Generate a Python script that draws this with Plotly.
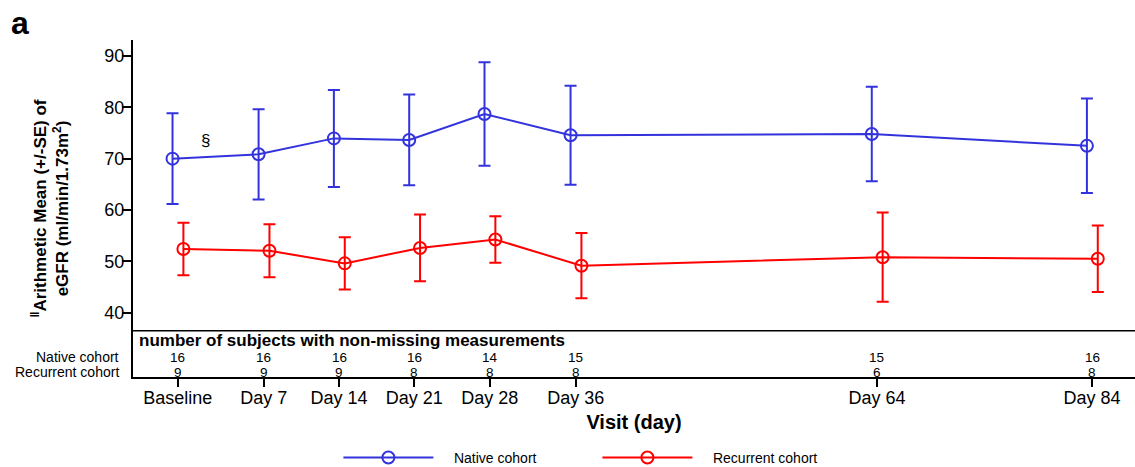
import plotly.graph_objects as go

# ---- data ----
visit_labels = ["Baseline", "Day 7", "Day 14", "Day 21", "Day 28", "Day 36", "Day 64", "Day 84"]
visit_day = [-1, 7, 14, 21, 28, 36, 64, 84]

native_mean = [70.0, 70.85, 73.95, 73.65, 78.7, 74.55, 74.8, 72.5]
native_se = [8.83, 8.8, 9.45, 8.85, 10.1, 9.65, 9.2, 9.2]
recurrent_mean = [52.4, 52.05, 49.6, 52.6, 54.25, 49.15, 50.8, 50.5]
recurrent_se = [5.1, 5.15, 5.07, 6.5, 4.55, 6.35, 8.7, 6.5]

native_n = [16, 16, 16, 16, 14, 15, 15, 16]
recurrent_n = [9, 9, 9, 8, 8, 8, 6, 8]

BLUE = "#3333dd"
RED = "#ff0000"
FONT = "Liberation Sans, Arial, sans-serif"
PAD = "\u00a0\u00a0\u00a0\u00a0"

native_x = [d - 0.48 for d in visit_day]
recurrent_x = [d + 0.53 for d in visit_day]

ROW1_Y = 31.3   # table row positions (data units of the y axis, below the plotted range)
ROW2_Y = 28.4

fig = go.Figure()
fig.add_trace(go.Scatter(
    x=native_x, y=native_mean, name=PAD + "Native cohort", mode="lines+markers",
    line=dict(color=BLUE, width=2),
    marker=dict(symbol="circle-open", size=12, color=BLUE, line=dict(width=2, color=BLUE)),
    error_y=dict(type="data", array=native_se, visible=True, color=BLUE, thickness=2, width=6),
))
fig.add_trace(go.Scatter(
    x=recurrent_x, y=recurrent_mean, name=PAD + "Recurrent cohort", mode="lines+markers",
    line=dict(color=RED, width=2),
    marker=dict(symbol="circle-open", size=12, color=RED, line=dict(width=2, color=RED)),
    error_y=dict(type="data", array=recurrent_se, visible=True, color=RED, thickness=2, width=6),
))

annotations = []
# table of subject counts
annotations.append(dict(x=0.004, xref="paper", y=34.54, yref="y", text="<b>number of subjects with non-missing measurements</b>",
                        showarrow=False, xanchor="left", yanchor="middle", font=dict(size=17, color="black", family=FONT)))
annotations.append(dict(x=0, xref="paper", xshift=-12, y=ROW1_Y, yref="y", text="Native cohort",
                        showarrow=False, xanchor="right", yanchor="middle", font=dict(size=14, color="black", family=FONT)))
annotations.append(dict(x=0, xref="paper", xshift=-12, y=ROW2_Y, yref="y", text="Recurrent cohort",
                        showarrow=False, xanchor="right", yanchor="middle", font=dict(size=14, color="black", family=FONT)))
for d, n1, n2 in zip(visit_day, native_n, recurrent_n):
    annotations.append(dict(x=d, xref="x", y=ROW1_Y, yref="y", text=str(n1), showarrow=False,
                            xanchor="center", yanchor="middle", font=dict(size=13.5, color="black", family=FONT)))
    annotations.append(dict(x=d, xref="x", y=ROW2_Y, yref="y", text=str(n2), showarrow=False,
                            xanchor="center", yanchor="middle", font=dict(size=13.5, color="black", family=FONT)))
# footnote symbol
annotations.append(dict(x=1.6, xref="x", y=73.6, yref="y", text="§", showarrow=False,
                        xanchor="center", yanchor="middle", font=dict(size=17, color="black", family=FONT)))
# panel label
annotations.append(dict(x=-0.124, xref="paper", y=1.0, yref="paper", yshift=-3, text="<b>a</b>", showarrow=False,
                        xanchor="left", yanchor="bottom", font=dict(size=32, color="black", family=FONT)))

fig.update_layout(annotations=annotations)

fig.add_shape(type="line", xref="paper", yref="y", x0=0, x1=1, y0=36.48, y1=36.48,
              line=dict(color="black", width=1.5))

fig.update_layout(
    width=1135, height=467,
    margin=dict(l=133, r=0, t=40, b=90, autoexpand=False),
    paper_bgcolor="white", plot_bgcolor="white",
    font=dict(family=FONT, color="black", size=18),
    showlegend=True,
    legend=dict(orientation="h", x=0.205, xanchor="left", y=-0.24, yanchor="middle",
                font=dict(size=14, family=FONT, color="black"),
                itemwidth=90, entrywidth=154, entrywidthmode="pixels"),
    xaxis=dict(
        range=[-5.155, 87.99], tickmode="array", tickvals=visit_day, ticktext=visit_labels,
        showline=True, linecolor="black", linewidth=2, ticks="outside", ticklen=8, tickwidth=2,
        tickcolor="black", showgrid=False, zeroline=False, tickfont=dict(size=18),
        ticklabelstandoff=-5, automargin=False,
        title=dict(text="<b>Visit (day)</b>", font=dict(size=20), standoff=8),
    ),
    yaxis=dict(
        range=[27.46, 93.12], tickmode="array", tickvals=[40, 50, 60, 70, 80, 90],
        showline=True, linecolor="black", linewidth=2, ticks="outside", ticklen=9, tickwidth=2,
        tickcolor="black", showgrid=False, zeroline=False, tickfont=dict(size=18),
        ticklabelstandoff=-6, automargin=False,
        title=dict(text="<b><sup>‖</sup>Arithmetic Mean (+/-SE) of<br>eGFR (ml/min/1.73m<sup>2</sup>)</b>",
                   font=dict(size=17), standoff=31),
    ),
)

fig.write_html("out.html")
